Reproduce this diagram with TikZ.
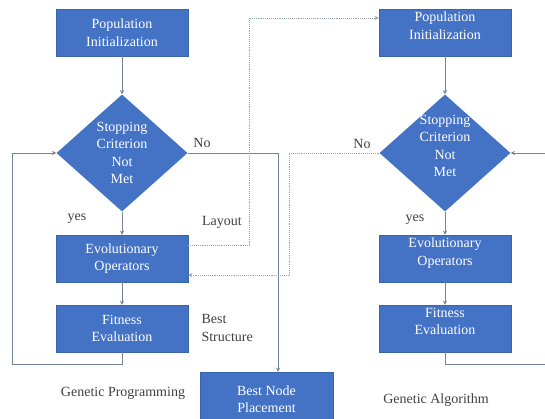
\documentclass[tikz,border=0pt]{standalone}
\usepackage{xcolor}
\usepackage{fontspec}
\setmainfont{Liberation Serif}
\usepackage{tikz}
\usetikzlibrary{shapes,arrows,positioning}

\definecolor{boxblue}{HTML}{4472C4}
\definecolor{boxedge}{HTML}{3A64AE}
\definecolor{linegray}{HTML}{76849A}
\definecolor{labelgray}{HTML}{404040}

\begin{document}
\begin{tikzpicture}[x=1pt, y=-1pt, >=stealth, font=\fontsize{14}{17.5}\selectfont,
    block/.style={rectangle, draw=boxedge, fill=boxblue, text=white, align=center, minimum width=132pt, minimum height=47pt, inner sep=2pt},
    decision/.style={diamond, fill=boxblue, text=white, align=center, minimum width=131pt, minimum height=117pt, inner sep=0pt},
    raised/.style={text depth=14pt},
    link/.style={draw=linegray, line width=0.9pt},
    dots/.style={draw=linegray!75, line width=0.9pt, densely dotted},
    lbl/.style={text=labelgray}]
    \useasboundingbox (0,0) rectangle (545,419);

    % genetic programming
    \node [block] (popgp) at (122,32.5) {Population\\Initialization};
    \node [decision, below of=popgp, node distance=120.5pt] (stopgp) {Stopping\\Criterion\\Not\\Met};
    \node [block, below of=stopgp, node distance=105.5pt] (evogp) {Evolutionary\\Operators};
    \node [block, below of=evogp, node distance=70pt] (fitgp) {Fitness\\Evaluation};
    \node [block, minimum width=133pt, minimum height=54pt] (bestnode) at (266.5,399) {Best Node\\Placement};

    % genetic algorithm
    \node [block, raised] (popga) at (445,32.5) {Population\\Initialization};
    \node [decision, raised, inner sep=-7pt, below of=popga, node distance=120.5pt] (stopga) {Stopping\\Criterion\\Not\\Met};
    \node [block, raised, below of=stopga, node distance=105.5pt] (evoga) {Evolutionary\\Operators};
    \node [block, raised, below of=evoga, node distance=70pt] (fitga) {Fitness\\Evaluation};

    % labels
    \node [lbl] (nogp) at (202,143) {No};
    \node [lbl] (yesgp) at (77,219) {yes};
    \node [lbl] (layout) at (222,222) {Layout};
    \node [lbl, align=left, anchor=west] (beststruct) at (198,328) {Best\\Structure};
    \node [lbl] (gpname) at (123,393) {Genetic Programming};
    \node [lbl] (noga) at (362,144) {No};
    \node [lbl] (yesga) at (415,220) {yes};
    \node [lbl] (ganame) at (436,400) {Genetic Algorithm};

    \draw [link, ->] (popgp) -- (stopgp);
    \draw [link, ->] (stopgp) -- (evogp);
    \draw [link, ->] (evogp) -- (fitgp);
    \draw [link, ->] (fitgp.south) -- ++(0,12.5) -| ([xshift=-44pt]stopgp.west) -- (stopgp.west);
    \draw [link, ->] (stopgp.east) -| ([xshift=11.5pt]bestnode.north);

    \draw [link, ->] (popga) -- (stopga);
    \draw [link, ->] (stopga) -- (evoga);
    \draw [link, ->] (evoga) -- (fitga);
    \draw [link, ->] (fitga.south) -- ++(0,12) -| ([xshift=50pt]stopga.east) -- (stopga.east);

    % exchange between the two
    \draw [dots, ->] ([yshift=13.5pt]evogp.east) -- ++(61,0) |- ([yshift=14.5pt]popga.west);
    \draw [dots, ->] (stopga.west) -- ++(-90,0) |- ([yshift=-16.5pt]evogp.east);
\end{tikzpicture}
\end{document}
